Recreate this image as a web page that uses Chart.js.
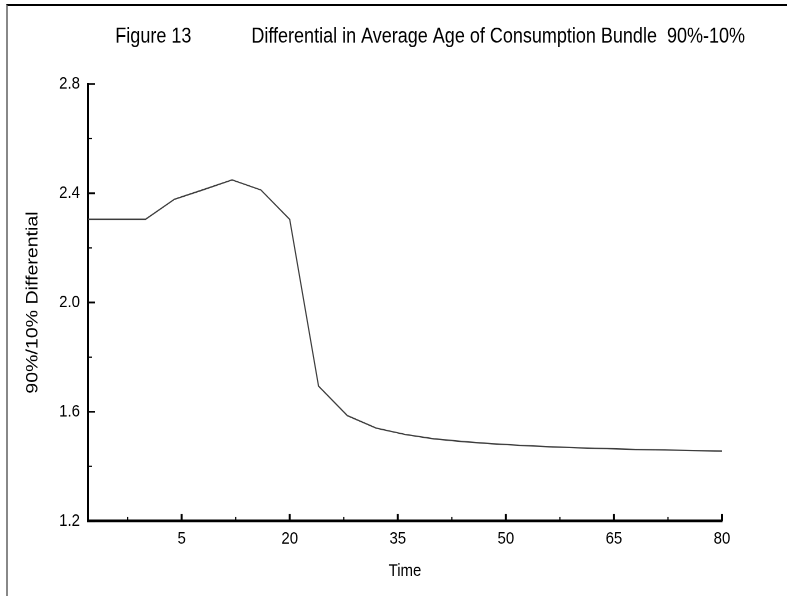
<!DOCTYPE html>
<html><head><meta charset="utf-8">
<script src="https://cdn.jsdelivr.net/npm/chart.js@4.4.0/dist/chart.umd.min.js"></script>
<style>
html,body{margin:0;padding:0;background:#fff;width:787px;height:596px;overflow:hidden;}
#frame{position:absolute;left:6px;top:4px;width:800px;height:600px;border-top:2px solid #000;border-left:2px solid #888;}
#wrap{position:absolute;left:0;top:0;width:787px;height:518px;transform:scaleY(1.1506);transform-origin:0 0;}
</style></head><body>
<div id="frame"></div>
<div id="wrap"><canvas id="c" width="787" height="518"></canvas></div>
<script>
const timePoints = [-8,-4,0,4,8,12,16,20,24,28,32,36,40,44,48,52,56,60,64,68,72,76,80];
const differential = [2.305,2.305,2.305,2.378,2.413,2.449,2.412,2.304,1.694,1.586,1.540,1.517,1.501,1.491,1.483,1.477,1.472,1.468,1.465,1.462,1.460,1.458,1.456];
const xTickValues = [5,20,35,50,65,80];
const xMinorTickValues = [-2.5,12.5,27.5,42.5,57.5,72.5];
const yTickValues = [1.2,1.6,2.0,2.4,2.8];
const yMinorTickValues = [1.4,1.8,2.2,2.6];
const titleText = 'Figure 13' + ' '.repeat(12) + 'Differential in Average Age of Consumption Bundle  90%-10%';
const xTitle = 'Time';
const yTitle = '90%/10% Differential';

const FONT = "'Liberation Sans', Arial, sans-serif";

const innerTicks = {
  id: 'innerTicks',
  afterDraw(chart) {
    const {ctx, chartArea: a, scales: {x, y}} = chart;
    ctx.save();
    ctx.strokeStyle = '#000';
    const seg = (x1, y1, x2, y2, w) => { ctx.lineWidth = w; ctx.beginPath(); ctx.moveTo(x1, y1); ctx.lineTo(x2, y2); ctx.stroke(); };
    xTickValues.forEach(v => { const p = x.getPixelForValue(v); seg(p, a.bottom, p, a.bottom - 6.2, 2); });
    xMinorTickValues.forEach(v => { const p = x.getPixelForValue(v); seg(p, a.bottom, p, a.bottom - 3.4, 1.2); });
    yTickValues.forEach(v => { const p = y.getPixelForValue(v); seg(a.left, p, a.left + 7, p, 1.6); });
    yMinorTickValues.forEach(v => { const p = y.getPixelForValue(v); seg(a.left, p, a.left + 4, p, 1.1); });
    ctx.restore();
  }
};

new Chart(document.getElementById('c'), {
  type: 'line',
  data: {
    labels: timePoints,
    datasets: [{
      data: timePoints.map((t, i) => ({x: t, y: differential[i]})),
      borderColor: '#3c3c3c',
      borderWidth: 1.2,
      pointRadius: 0,
      tension: 0,
      fill: false
    }]
  },
  options: {
    responsive: false,
    animation: false,
    devicePixelRatio: 2,
    layout: {padding: {left: 0, right: 42, top: 0, bottom: 0}},
    plugins: {
      legend: {display: false},
      tooltip: {enabled: false},
      title: {
        display: true, text: titleText, align: 'end', color: '#000',
        font: {family: FONT, size: 18, weight: 'normal'},
        padding: {top: 21.4, bottom: 30.0}
      }
    },
    scales: {
      x: {
        type: 'linear', min: -8, max: 80,
        afterBuildTicks: s => { s.ticks = xTickValues.map(v => ({value: v})); },
        afterFit: s => { s.height = 65.2; },
        grid: {display: false, drawTicks: false},
        border: {display: true, color: '#000', width: 2.4},
        ticks: {color: '#000', font: {family: FONT, size: 15}, padding: 6.7, maxRotation: 0, autoSkip: false,
          callback: v => String(v)},
        title: {display: true, text: xTitle, color: '#000', font: {family: FONT, size: 15}, padding: {top: 0, bottom: 12.7}}
      },
      y: {
        type: 'linear', min: 1.2, max: 2.8,
        afterBuildTicks: s => { s.ticks = yTickValues.map(v => ({value: v})); },
        afterFit: s => { s.width = 88; },
        grid: {display: false, drawTicks: false},
        border: {display: true, color: '#000', width: 2},
        ticks: {color: '#000', font: {family: FONT, size: 15}, padding: 8, callback: v => Number(v).toFixed(1)},
        title: {display: true, text: yTitle, color: '#000', font: {family: FONT, size: 17}, padding: {top: 22.8, bottom: 0}}
      },
      y2: {
        type: 'linear', position: 'right', display: true,
        afterFit: s => { s.width = 23; },
        grid: {display: false, drawTicks: false},
        border: {display: false},
        ticks: {display: false}
      }
    }
  },
  plugins: [innerTicks]
});
</script>
</body></html>
